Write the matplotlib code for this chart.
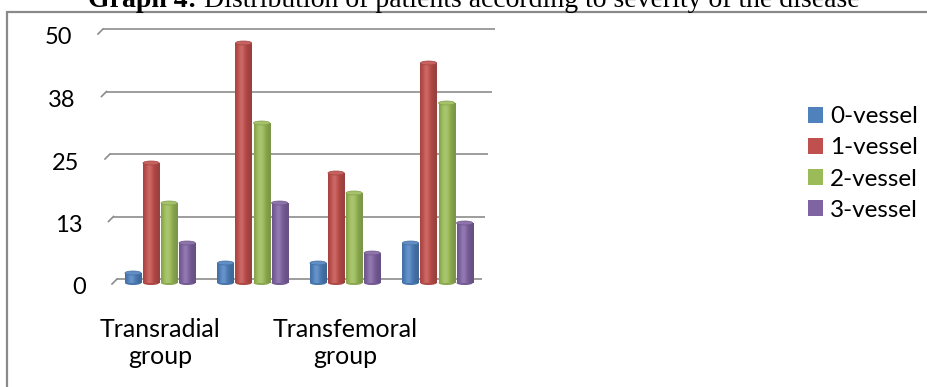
import numpy as np
import matplotlib
matplotlib.use("Agg")
import matplotlib.pyplot as plt
from matplotlib.patches import Rectangle, Ellipse, Patch
from matplotlib import transforms as mtransforms
from matplotlib.colors import to_rgb

# ---- data ----
categories = ["Transradial\ngroup", "", "Transfemoral\ngroup", ""]
series_names = ["0-vessel", "1-vessel", "2-vessel", "3-vessel"]
vessel_0 = [2, 4, 4, 8]
vessel_1 = [24, 48, 22, 44]
vessel_2 = [16, 32, 18, 36]
vessel_3 = [8, 16, 6, 12]
y_ticks = [0, 12.5, 25, 37.5, 50]
y_tick_labels = ["0", "13", "25", "38", "50"]
series_colors = ["#4F81BD", "#C0504D", "#9BBB59", "#8064A2"]

series = [vessel_0, vessel_1, vessel_2, vessel_3]

W, H, DPI = 928, 387, 100
FONT = "Lato"
fig = plt.figure(figsize=(W / DPI, H / DPI), dpi=DPI)

# outer frame of the graph box (open to the right and bottom)
frame = Rectangle((7 / W, -0.2), 2.0, 1 - 12 / H + 0.2, transform=fig.transFigure,
                  fill=False, edgecolor="#8a8a8a", linewidth=1.6, clip_on=False)
fig.patches.append(frame)

ax_w_px = 370
ax = fig.add_axes([112 / W, 104 / H, ax_w_px / W, 250 / H])
ax.set_xlim(-0.52, 3.48)
ax.set_ylim(0, 50)
for s in ax.spines.values():
    s.set_visible(False)
ax.set_yticks([])
ax.patch.set_alpha(0)

px_per_unit = 250 / 50.0
blend = mtransforms.blended_transform_factory(ax.transAxes, ax.transData)

# perspective gridlines on the back wall
grid_shift = 4 / px_per_unit
for v in y_ticks:
    frac = v / 50.0
    L = (5 - 14 * frac) / ax_w_px
    R = 1 + (13 * frac) / ax_w_px
    yv = v + grid_shift
    ax.plot([L, R], [yv, yv], transform=blend, color="#8c8c8c", lw=1.2,
            clip_on=False, zorder=1, solid_capstyle="butt")
    ax.plot([L - 5 / ax_w_px, L], [yv - 5 / px_per_unit, yv], transform=blend,
            color="#8c8c8c", lw=1.2, clip_on=False, zorder=1)

# y tick labels drawn along the receding wall
for v, lab in zip(y_ticks, y_tick_labels):
    frac = v / 50.0
    xr = (-26 - 14 * frac) / ax_w_px
    ax.text(xr, v - 5 / px_per_unit, lab, transform=blend, ha="right", va="center",
            fontsize=17, family=FONT, color="black")


def shade_row(base, n=64):
    base = np.array(to_rgb(base))
    t = np.linspace(0, 1, n)
    f = 0.8 + 0.3 * np.exp(-((t - 0.38) / 0.3) ** 2)
    rows = []
    for fi in f:
        if fi <= 1:
            rows.append(base * fi)
        else:
            rows.append(base + (1 - base) * (fi - 1) * 1.4)
    return np.clip(np.array(rows), 0, 1)[None, :, :]


x = np.arange(len(categories))
step = 0.195
width = 0.175
cap_h = 4 / px_per_unit
for i, (vals, col) in enumerate(zip(series, series_colors)):
    offs = (i - 1.5) * step
    z = 3 + i
    bars = ax.bar(x + offs, vals, width, color=col, linewidth=0, zorder=z)
    grad = shade_row(col)
    base = np.array(to_rgb(col))
    for b in bars:
        x0, w, h = b.get_x(), b.get_width(), b.get_height()
        bottom = Ellipse((x0 + w / 2, 0), w, cap_h, facecolor=base * 0.9,
                         edgecolor="none", zorder=z, clip_on=False)
        ax.add_patch(bottom)
        im = ax.imshow(grad, extent=[x0, x0 + w, 0, h], aspect="auto",
                       interpolation="bilinear", zorder=z)
        im.set_clip_path(b)
        top = Ellipse((x0 + w / 2, h), w, cap_h,
                      facecolor=base + (1 - base) * 0.1,
                      edgecolor=base * 0.85, linewidth=0.5, zorder=z + 0.5)
        ax.add_patch(top)

ax.set_xlim(-0.52, 3.48)
ax.set_ylim(0, 50)
ax.set_xticks(x)
ax.set_xticklabels(categories, fontsize=18, family=FONT, linespacing=1.2)
ax.tick_params(axis="x", length=0, pad=25)

# legend
handles = [Patch(facecolor=c, edgecolor="none") for c in series_colors]
fig.legend(handles, series_names, loc="center left",
           bbox_to_anchor=(808 / W, 1 - 163.5 / H), frameon=False,
           prop={"family": FONT, "size": 17.5}, handlelength=0.62, handleheight=0.62,
           handletextpad=0.3, labelspacing=0.42, borderpad=0, borderaxespad=0)

# title: bold lead followed by regular text
renderer = fig.canvas.get_renderer()
tsize = 20
lead = "Graph 4:"
rest = " Distribution of patients according to severity of the disease"
t1 = fig.text(0, 0, lead, fontsize=tsize, fontweight="bold", family="Liberation Serif")
t2 = fig.text(0, 0, rest, fontsize=tsize, family="Liberation Serif")
w1 = t1.get_window_extent(renderer).width
w2 = t2.get_window_extent(renderer).width
start = 474 - (w1 + w2) / 2
yb = 1 - 7 / H
t1.set_position((start / W, yb))
t1.set_va("baseline")
t2.set_position(((start + w1) / W, yb))
t2.set_va("baseline")

fig.savefig("out.png", dpi=DPI)
